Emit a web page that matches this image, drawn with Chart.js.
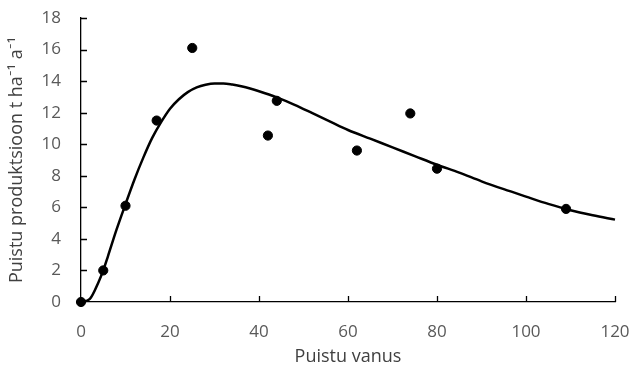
<!DOCTYPE html>
<html>
<head>
<meta charset="utf-8">
<script src="https://cdn.jsdelivr.net/npm/chart.js@4"></script>
<style>
  html, body { margin: 0; padding: 0; background: #fff; }
  #wrap { width: 635px; height: 372px; }
</style>
</head>
<body>
<div id="wrap"><canvas id="c" width="635" height="372"></canvas></div>
<script>
// Observed data (stand age vs. production)
const obsAge = [0, 5, 10, 17, 25, 42, 44, 62, 74, 80, 109];
const obsProd = [0, 2.0, 6.1, 11.5, 16.1, 10.55, 12.75, 9.6, 11.95, 8.45, 5.9];

// Fitted curve
const curveAge = [0, 2, 4, 5, 6, 8, 10, 12, 14, 16, 18, 20, 22, 24, 26, 28, 30, 32, 34, 36, 38, 40, 44, 48, 52, 56, 60, 65, 70, 75, 80, 85, 90, 95, 100, 105, 110, 115, 120];
const curveProd = [0, 0.2, 1.3, 2.0, 2.85, 4.6, 6.2, 7.75, 9.15, 10.4, 11.4, 12.25, 12.85, 13.3, 13.6, 13.77, 13.85, 13.85, 13.78, 13.67, 13.53, 13.36, 12.97, 12.5, 11.97, 11.43, 10.9, 10.35, 9.8, 9.25, 8.7, 8.2, 7.65, 7.15, 6.68, 6.22, 5.82, 5.5, 5.22];

const xTicks = [0, 20, 40, 60, 80, 100, 120];
const yTicks = [0, 2, 4, 6, 8, 10, 12, 14, 16, 18];

const xTitle = 'Puistu vanus';
const yTitle = 'Puistu produktsioon t ha\u207B\u00B9 a\u207B\u00B9';

const FONT = '"Open Sans", Lato, sans-serif';

const innerTicks = {
  id: 'innerTicks',
  afterDatasetsDraw(chart) {
    const ctx = chart.ctx;
    const xs = chart.scales.x, ys = chart.scales.y;
    const y0 = ys.getPixelForValue(0);
    const x0 = xs.getPixelForValue(0);
    ctx.save();
    ctx.strokeStyle = '#000';
    ctx.lineWidth = 1.3;
    ctx.beginPath();
    xTicks.forEach(v => {
      if (v === 0) return;
      const px = Math.round(xs.getPixelForValue(v)) + 0.5;
      ctx.moveTo(px, y0);
      ctx.lineTo(px, y0 - 6);
    });
    yTicks.forEach(v => {
      if (v === 0) return;
      const py = Math.round(ys.getPixelForValue(v)) + 0.5;
      ctx.moveTo(x0, py);
      ctx.lineTo(x0 + 6, py);
    });
    ctx.stroke();
    ctx.restore();
  }
};

new Chart(document.getElementById('c'), {
  type: 'scatter',
  data: {
    datasets: [
      {
        type: 'line',
        data: curveAge.map((x, i) => ({ x, y: curveProd[i] })),
        borderColor: '#000',
        borderWidth: 2.5,
        pointRadius: 0,
        cubicInterpolationMode: 'monotone',
        fill: false,
        clip: false,
        order: 2
      },
      {
        type: 'scatter',
        data: obsAge.map((x, i) => ({ x, y: obsProd[i] })),
        backgroundColor: '#000',
        borderColor: '#000',
        pointRadius: 4.6,
        pointHoverRadius: 4.6,
        clip: false,
        order: 1
      }
    ]
  },
  options: {
    responsive: false,
    animation: false,
    devicePixelRatio: 1,
    layout: { autoPadding: false, padding: { left: 0, right: 20, top: 18, bottom: 0 } },
    plugins: { legend: { display: false }, tooltip: { enabled: false } },
    scales: {
      x: {
        type: 'linear',
        min: 0, max: 120,
        afterBuildTicks: s => { s.ticks = xTicks.map(v => ({ value: v })); },
        afterFit: s => { s.height = 70; s.paddingLeft = 0; s.paddingRight = 0; },
        grid: { display: false, drawTicks: false },
        border: { display: true, color: '#000', width: 1.3 },
        ticks: { color: '#595959', font: { family: FONT, size: 17 }, padding: 20, maxRotation: 0 },
        title: { display: true, text: xTitle, color: '#404040', font: { family: FONT, size: 18 }, padding: { top: 1 } }
      },
      y: {
        type: 'linear',
        min: 0, max: 18,
        afterBuildTicks: s => { s.ticks = yTicks.map(v => ({ value: v })); },
        afterFit: s => { s.width = 81; s.paddingTop = 0; s.paddingBottom = 0; },
        grid: { display: false, drawTicks: false },
        border: { display: true, color: '#000', width: 1.3 },
        ticks: { color: '#595959', font: { family: FONT, size: 17 }, padding: 20 },
        title: { display: true, text: yTitle, color: '#404040', font: { family: FONT, size: 18 }, padding: { top: 6, bottom: 0 } }
      }
    }
  },
  plugins: [innerTicks]
});
</script>
</body>
</html>
